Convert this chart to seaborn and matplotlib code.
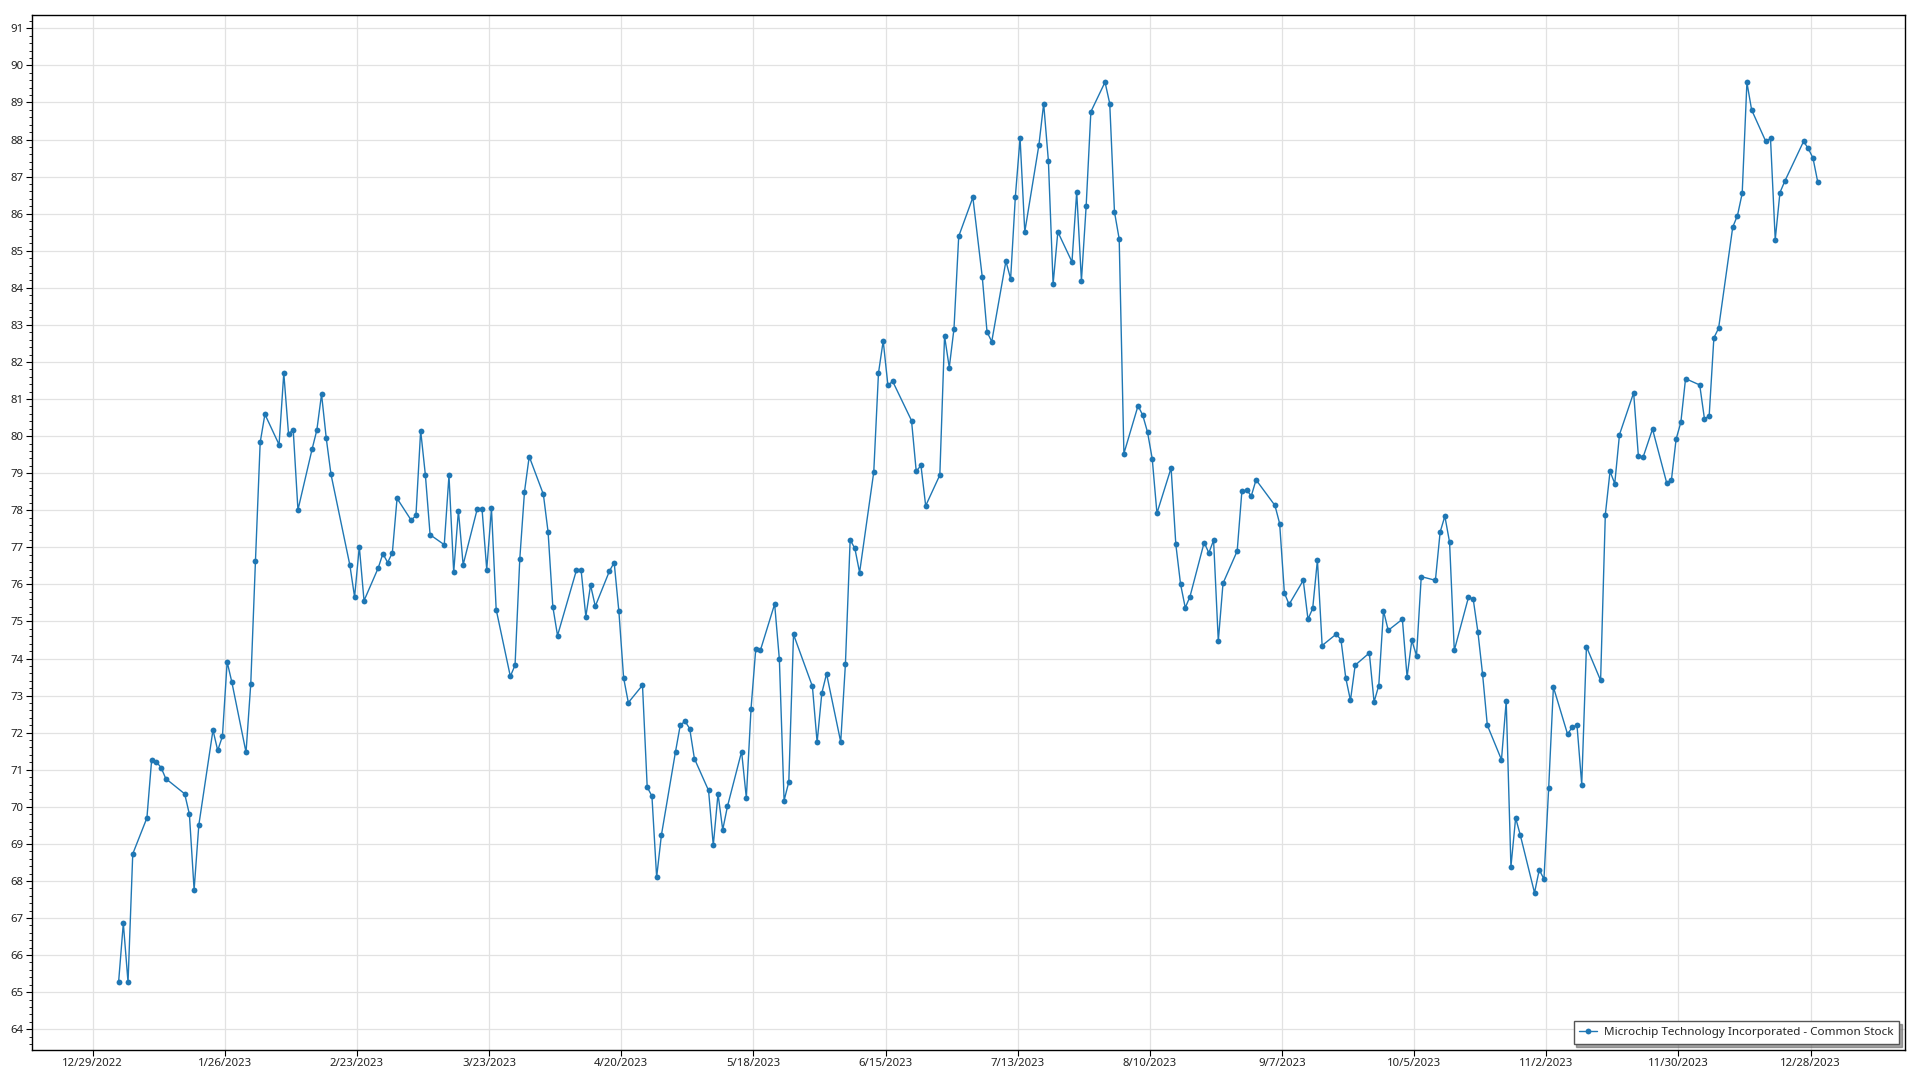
import pandas as pd
import numpy as np
import matplotlib
matplotlib.use("Agg")
import matplotlib.pyplot as plt
import matplotlib.ticker as mticker
import matplotlib.dates as mdates
import seaborn as sns

# ==========================================
# Data (closing prices)
# ==========================================

jan = [65.27, 66.86, 65.27, 68.73, 69.70, 71.26, 71.21, 71.06, 70.76, 70.35,
       69.80, 67.76, 69.51, 72.07, 71.52, 71.90, 73.91, 73.36, 71.47, 73.31]
feb = [76.64, 79.83, 80.59, 79.77, 81.70, 80.07, 80.16, 78.01, 79.65, 80.16,
       81.13, 79.94, 78.97, 76.52, 75.66, 77.02, 75.56, 76.44, 76.83]
mar = [76.59, 76.85, 78.32, 77.73, 77.86, 80.15, 78.95, 77.34, 77.07, 78.94,
       76.33, 77.99, 76.53, 78.04, 78.04, 76.40, 78.05, 75.32, 73.52, 73.82,
       76.68, 78.50, 79.45]
apr = [78.43, 77.41, 75.40, 74.62, 76.38, 76.38, 75.13, 75.98, 75.41, 76.36,
       76.59, 75.27, 73.48, 72.81, 73.28, 70.53, 70.29, 68.10, 69.23]
may = [71.49, 72.20, 72.31, 72.11, 71.30, 70.44, 68.96, 70.35, 69.38, 70.01,
       71.49, 70.24, 72.65, 74.26, 74.23, 75.47, 73.98, 70.17, 70.67, 74.65,
       73.25, 71.74]
jun = [73.07, 73.59, 71.75, 73.86, 77.20, 76.97, 76.32, 79.03, 81.70, 82.57,
       81.37, 81.48, 80.42, 79.05, 79.21, 78.12, 78.95, 82.70, 81.85, 82.90,
       85.39]
jul = [86.44, 84.28, 82.81, 82.55, 84.72, 84.24, 86.46, 88.04, 85.51, 87.86,
       88.97, 87.43, 84.10, 85.51, 84.70, 86.59, 84.19, 86.20, 88.75, 89.55]
aug = [88.97, 86.05, 85.32, 79.53, 80.82, 80.56, 80.11, 79.39, 77.92, 79.14,
       77.08, 76.01, 75.37, 75.67, 77.13, 76.85, 77.19, 74.47, 76.03, 76.90,
       78.52, 78.54, 78.39]
sep = [78.82, 78.13, 77.64, 75.77, 75.46, 76.11, 75.06, 75.35, 76.66, 74.35,
       74.66, 74.50, 73.48, 72.87, 73.82, 74.15, 72.83, 73.27, 75.29, 74.76]
oct_ = [75.06, 73.50, 74.49, 74.08, 76.21, 76.11, 77.41, 77.84, 77.14, 74.22,
        75.65, 75.61, 74.72, 73.57, 72.20, 71.27, 72.85, 68.38, 69.70, 69.23,
        67.68, 68.30]
nov = [68.05, 70.51, 73.23, 71.96, 72.15, 72.20, 70.60, 74.32, 73.41, 77.88,
       79.05, 78.72, 80.04, 81.17, 79.47, 79.43, 80.19, 78.74, 78.81, 79.92,
       80.37]
dec = [81.55, 81.38, 80.47, 80.54, 82.65, 82.91, 85.64, 85.95, 86.55, 89.54,
       88.80, 87.95, 88.03, 85.30, 86.57, 86.87, 87.95, 87.76, 87.50, 86.86]

# NYSE 2023 market holidays (trading calendar)
holidays = ["2023-01-02", "2023-01-16", "2023-02-20", "2023-04-07",
            "2023-05-29", "2023-06-19", "2023-07-04", "2023-09-04",
            "2023-11-23", "2023-12-25"]

series_name = "Microchip Technology Incorporated - Common Stock"

# prices are stamped at midday of each trading day
dates = pd.bdate_range("2023-01-03", "2023-12-29", freq="C", holidays=holidays)
dates = dates + pd.Timedelta(hours=12)
prices = jan + feb + mar + apr + may + jun + jul + aug + sep + oct_ + nov + dec

df = pd.DataFrame({"Date": dates, "Close": prices, "Series": series_name})

x_ticks = pd.date_range("2022-12-29", periods=14, freq="28D")

# ==========================================
# Style
# ==========================================

sns.set_style("white")
plt.rcParams["font.family"] = ["Noto Sans", "DejaVu Sans"]

line_color = "#1f77b4"

fig = plt.figure(figsize=(19.2, 10.8), dpi=100)
ax = fig.add_axes([0.0167, 0.0278, 0.9755, 0.9583])

sns.lineplot(
    data=df,
    x="Date",
    y="Close",
    hue="Series",
    palette=[line_color],
    marker="o",
    markersize=4.2,
    markeredgewidth=0,
    linewidth=1.0,
    ax=ax
)

# ==========================================
# Axes
# ==========================================

ax.set_xlim(pd.Timestamp("2022-12-16 04:00"), pd.Timestamp("2024-01-17"))
ax.set_ylim(63.44, 91.36)

ax.set_xticks(x_ticks)
ax.xaxis.set_major_formatter(
    mticker.FuncFormatter(
        lambda v, pos: "{d.month}/{d.day}/{d.year}".format(d=mdates.num2date(v))
    )
)
ax.yaxis.set_major_locator(mticker.MultipleLocator(1))
ax.yaxis.set_minor_locator(mticker.MultipleLocator(0.2))

ax.tick_params(axis="both", which="major", direction="out", length=4,
               width=0.8, color="black", labelsize=8.2, labelcolor="#222222",
               bottom=True, left=True, pad=2)
ax.tick_params(axis="y", which="minor", direction="out", length=2,
               width=0.6, color="black", left=True)

ax.grid(True, which="major", color="#e2e2e2", linewidth=0.9)
ax.set_axisbelow(True)

for spine in ax.spines.values():
    spine.set_color("black")
    spine.set_linewidth(1.0)

ax.set_xlabel("")
ax.set_ylabel("")

leg = ax.legend(
    loc="lower right",
    frameon=True,
    fancybox=False,
    shadow=True,
    fontsize=8.4,
    handlelength=1.5,
    handletextpad=0.6,
    borderpad=0.5,
    borderaxespad=0.5,
    title=None
)
leg.get_frame().set_edgecolor("#555555")
leg.get_frame().set_linewidth(1.0)
leg.get_frame().set_alpha(1)

plt.savefig("out.png", dpi=100)
